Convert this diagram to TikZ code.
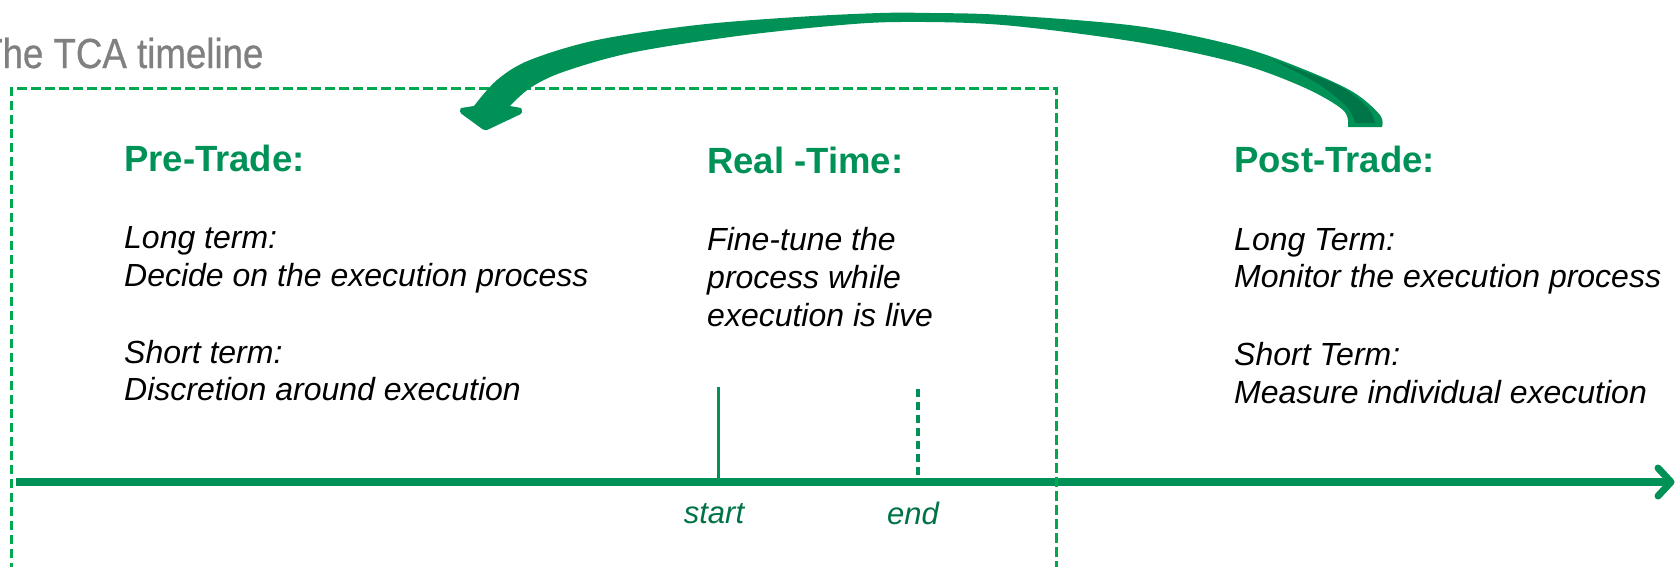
\documentclass[tikz,border=0pt]{standalone}
\usepackage{fontspec}
\setmainfont{Liberation Sans}
\newfontfamily\titlefont[FakeBold=0.7]{Liberation Sans}
\definecolor{tgreen}{RGB}{0,145,87}
\definecolor{boxgreen}{RGB}{0,168,80}
\definecolor{lgreen}{RGB}{0,115,70}
\definecolor{dgreen}{RGB}{0,117,72}
\definecolor{tgray}{RGB}{128,128,128}
\tikzset{
  hdr/.style={anchor=base west, inner sep=0pt, text=tgreen, font=\fontsize{36.5}{40}\selectfont\bfseries},
  body/.style={anchor=base west, inner sep=0pt, font=\fontsize{32}{38}\selectfont\itshape},
  lbl/.style={anchor=base, inner sep=0pt, text=lgreen, font=\fontsize{31}{36}\selectfont\itshape},
  boxline/.style={boxgreen, line width=3pt, dash pattern=on 9.5pt off 4.5pt},
}
\begin{document}
\begin{tikzpicture}[x=1pt,y=-1pt]
\clip (0,0) rectangle (1675,566);
\useasboundingbox (0,0) rectangle (1675,566);

% title
\node[anchor=base west, inner sep=0pt, text=tgray, font=\titlefont\fontsize{42}{46}\selectfont] (title) at (-20,68) {\scalebox{0.873}[1]{The TCA timeline}};

% timeline
\coordinate (t0) at (16,482);
\coordinate (t1) at (1671,482);
\coordinate (tha) at (1658,468);
\coordinate (thb) at (1658,496);
\draw[tgreen, line width=8pt] (t0) -- (t1);
\draw[tgreen, line width=7pt, line cap=round, line join=round] (tha) -- (t1) -- (thb);

% ticks
\coordinate (s0) at (718,387);
\coordinate (s1) at (718,482);
\coordinate (e0) at (918,389);
\coordinate (e1) at (918,482);
\draw[tgreen, line width=3pt] (s0) -- (s1);
\draw[tgreen, line width=4pt, dash pattern=on 8pt off 5pt] (e0) -- (e1);
\node[lbl] (startlbl) at (714,523) {start};
\node[lbl] (endlbl) at (913,524) {end};

% dashed box
\coordinate (b0) at (11,600);
\coordinate (b1) at (11,88);
\coordinate (b2) at (1056,88);
\coordinate (b3) at (1056,600);
\draw[boxline] (b0) -- (b1) -- (b2) -- (b3);

% curved arrow
\fill[tgreen] (1382,127)
  -- plot[smooth, tension=0.55] coordinates {(1382,127) (1380,115) (1353,92) (1303,69) (1237,46) (1137,26) (1003,15) (930,13) (880,13) (797,17) (697,25) (597,40) (530,60) (497,80) (474,106)}
  -- (461,108) [rounded corners=3pt] -- (459,112) -- (485,131) -- (523,113) [sharp corners] -- (521,108) -- (510,106)
  -- plot[smooth, tension=0.55] coordinates {(510,106) (530,88) (563,72) (630,53) (730,37) (830,26) (900,22) (1003,25) (1137,42) (1237,63) (1303,87) (1343,110) (1348,127)}
  -- cycle;
\fill[dgreen] plot[smooth, tension=0.55] coordinates {(1270,59) (1337,85) (1367,107) (1375,123)}
  -- (1355,123)
  -- plot[smooth, tension=0.55] coordinates {(1355,123) (1347,107) (1320,85) (1287,67) (1270,59)}
  -- cycle;

% Pre-Trade
\node[hdr] (preh) at (124,171) {Pre-Trade:};
\node[body] (pre1) at (124,248) {Long term:};
\node[body] (pre2) at (124,286) {Decide on the execution process};
\node[body] (pre3) at (124,363) {Short term:};
\node[body] (pre4) at (124,400) {Discretion around execution};

% Real-Time
\node[hdr] (rth) at (707,173) {Real -Time:};
\node[body] (rt1) at (707,250) {Fine-tune the};
\node[body] (rt2) at (707,288) {process while};
\node[body] (rt3) at (707,326) {execution is live};

% Post-Trade
\node[hdr] (posth) at (1234,172) {Post-Trade:};
\node[body] (post1) at (1234,250) {Long Term:};
\node[body] (post2) at (1234,287) {Monitor the execution process};
\node[body] (post3) at (1234,365) {Short Term:};
\node[body] (post4) at (1234,403) {Measure individual execution};
\end{tikzpicture}
\end{document}
